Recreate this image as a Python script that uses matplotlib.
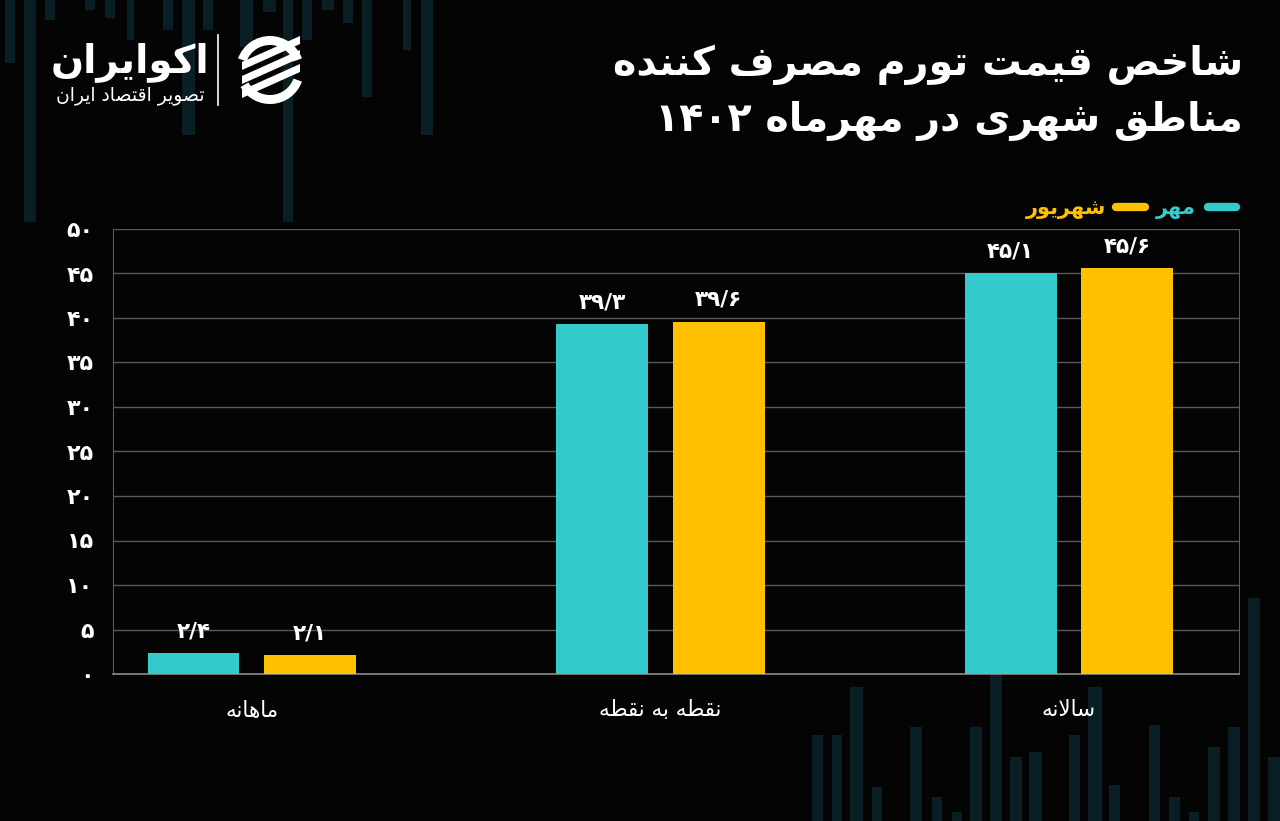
#!/usr/bin/env python3
"""
Urban CPI inflation chart (Mehr vs Shahrivar 1402)
"""
import re
import matplotlib
matplotlib.use('Agg')
import matplotlib.pyplot as plt
import numpy as np
from matplotlib.patches import Rectangle, Wedge, Polygon

# Data
categories = ['ماهانه', 'نقطه به نقطه', 'سالانه']
mehr = [2.4, 39.3, 45.1]
shahrivar = [2.1, 39.6, 45.6]
mehr_labels = ['۲/۴', '۳۹/۳', '۴۵/۱']
shahrivar_labels = ['۲/۱', '۳۹/۶', '۴۵/۶']
y_ticks = [0, 5, 10, 15, 20, 25, 30, 35, 40, 45, 50]
series_names = ['مهر', 'شهریور']
title_lines = ['شاخص قیمت تورم مصرف کننده', 'مناطق شهری در مهرماه ۱۴۰۲']

CYAN = '#35cbcc'
YELLOW = '#ffc000'
BG = '#040404'
DECO = '#0a1f25'

# --- minimal Persian shaping (matplotlib has no bidi/shaping) ---
FORMS = {
    'ا': (0xFE8D, 0xFE8E), 'آ': (0xFE81, 0xFE82),
    'ب': (0xFE8F, 0xFE90, 0xFE91, 0xFE92), 'پ': (0xFB56, 0xFB57, 0xFB58, 0xFB59),
    'ت': (0xFE95, 0xFE96, 0xFE97, 0xFE98), 'ث': (0xFE99, 0xFE9A, 0xFE9B, 0xFE9C),
    'ج': (0xFE9D, 0xFE9E, 0xFE9F, 0xFEA0), 'چ': (0xFB7A, 0xFB7B, 0xFB7C, 0xFB7D),
    'ح': (0xFEA1, 0xFEA2, 0xFEA3, 0xFEA4), 'خ': (0xFEA5, 0xFEA6, 0xFEA7, 0xFEA8),
    'د': (0xFEA9, 0xFEAA), 'ذ': (0xFEAB, 0xFEAC), 'ر': (0xFEAD, 0xFEAE),
    'ز': (0xFEAF, 0xFEB0), 'ژ': (0xFB8A, 0xFB8B),
    'س': (0xFEB1, 0xFEB2, 0xFEB3, 0xFEB4), 'ش': (0xFEB5, 0xFEB6, 0xFEB7, 0xFEB8),
    'ص': (0xFEB9, 0xFEBA, 0xFEBB, 0xFEBC), 'ض': (0xFEBD, 0xFEBE, 0xFEBF, 0xFEC0),
    'ط': (0xFEC1, 0xFEC2, 0xFEC3, 0xFEC4), 'ظ': (0xFEC5, 0xFEC6, 0xFEC7, 0xFEC8),
    'ع': (0xFEC9, 0xFECA, 0xFECB, 0xFECC), 'غ': (0xFECD, 0xFECE, 0xFECF, 0xFED0),
    'ف': (0xFED1, 0xFED2, 0xFED3, 0xFED4), 'ق': (0xFED5, 0xFED6, 0xFED7, 0xFED8),
    'ک': (0xFB8E, 0xFB8F, 0xFB90, 0xFB91), 'گ': (0xFB92, 0xFB93, 0xFB94, 0xFB95),
    'ل': (0xFEDD, 0xFEDE, 0xFEDF, 0xFEE0), 'م': (0xFEE1, 0xFEE2, 0xFEE3, 0xFEE4),
    'ن': (0xFEE5, 0xFEE6, 0xFEE7, 0xFEE8), 'و': (0xFEED, 0xFEEE),
    'ه': (0xFEE9, 0xFEEA, 0xFEEB, 0xFEEC), 'ی': (0xFBFC, 0xFBFD, 0xFBFE, 0xFBFF),
    '\uFEFB': (0xFEFB, 0xFEFC),  # lam-alef ligature
}


def shape(text):
    text = text.replace('لا', '\uFEFB')
    out = []
    for i, c in enumerate(text):
        if c not in FORMS:
            out.append(c)
            continue
        f = FORMS[c]
        prev = text[i - 1] if i > 0 else ''
        nxt = text[i + 1] if i + 1 < len(text) else ''
        j_prev = prev in FORMS and len(FORMS[prev]) == 4
        j_next = len(f) == 4 and nxt in FORMS
        if j_prev and j_next:
            k = 3
        elif j_prev:
            k = 1
        elif j_next:
            k = 2
        else:
            k = 0
        out.append(chr(f[k]))
    shaped = ''.join(out)
    runs = re.findall(r'[0-9\u06F0-\u06F9/]+|[^0-9\u06F0-\u06F9/]+', shaped)
    vis = []
    for r in reversed(runs):
        if re.match(r'[0-9\u06F0-\u06F9/]', r):
            vis.append(r)
        else:
            vis.append(r[::-1])
    return ''.join(vis)


def fa_num(n):
    return ''.join(chr(0x06F0 + int(d)) for d in str(n))


plt.rcParams['font.family'] = ['DejaVu Sans']

fig = plt.figure(figsize=(12.8, 8.21), dpi=100, facecolor=BG)

# decorative background bars (candles) in figure pixels
bg = fig.add_axes([0, 0, 1, 1], zorder=0)
bg.set_xlim(0, 1280)
bg.set_ylim(821, 0)
bg.axis('off')
top_bars = [(5, 10, 63), (24, 12, 222), (45, 10, 20), (85, 10, 10), (105, 10, 18),
            (127, 7, 40), (163, 10, 30), (182, 13, 135), (203, 10, 30), (240, 13, 47),
            (263, 13, 12), (283, 10, 222), (302, 10, 40), (322, 12, 10), (343, 10, 23),
            (362, 10, 97), (403, 8, 50), (421, 12, 135)]
for x, w, h in top_bars:
    bg.add_patch(Rectangle((x, 0), w, h, color=DECO, lw=0))
bottom_bars = [(812, 11, 735), (832, 10, 735), (850, 13, 687), (872, 10, 787),
               (910, 12, 727), (932, 10, 797), (952, 10, 812), (970, 12, 727),
               (990, 12, 673), (1010, 12, 757), (1029, 13, 752), (1069, 11, 735),
               (1088, 14, 687), (1109, 11, 785), (1149, 11, 725), (1169, 11, 797),
               (1189, 10, 812), (1208, 12, 747), (1228, 12, 727), (1248, 12, 598),
               (1268, 12, 757)]
for x, w, top in bottom_bars:
    bg.add_patch(Rectangle((x, top), w, 821 - top, color=DECO, lw=0))

# logo
bg.text(130, 72, shape('اکوایران'), color='white', fontsize=28, fontweight='bold',
        ha='center', va='baseline')
bg.text(130, 100, shape('تصویر اقتصاد ایران'), color='white', fontsize=13.5,
        ha='center', va='baseline')
bg.plot([218, 218], [35, 105], color='white', lw=1.2)
bg.add_patch(Wedge((270, 70), 34, 200, 340, width=9, color='white', lw=0))
bg.add_patch(Wedge((270, 70), 34, 20, 150, width=9, color='white', lw=0))
for dy in (-14, 0, 14):
    bg.add_patch(Polygon([(242, 76 + dy), (300, 50 + dy), (300, 58 + dy), (242, 84 + dy)],
                         closed=True, color='white', lw=0))

# title
bg.text(1243, 75, shape(title_lines[0]), color='white', fontsize=28.5, fontweight='bold',
        ha='right', va='baseline')
bg.text(1243, 131, shape(title_lines[1]), color='white', fontsize=28.5, fontweight='bold',
        ha='right', va='baseline')

# legend
bg.plot([1208, 1236], [207, 207], color=CYAN, lw=6, solid_capstyle='round')
bg.text(1196, 214, shape(series_names[0]), color=CYAN, fontsize=15, fontweight='bold',
        ha='right', va='baseline')
bg.plot([1116, 1145], [207, 207], color=YELLOW, lw=6, solid_capstyle='round')
bg.text(1106, 214, shape(series_names[1]), color=YELLOW, fontsize=15, fontweight='bold',
        ha='right', va='baseline')

# main axes
ax = fig.add_axes([113 / 1280, 1 - 674 / 821, 1126 / 1280, 445 / 821], zorder=1)
ax.set_facecolor('none')
x = np.arange(len(categories))
w = 0.225
off = 0.143
b1 = ax.bar(x - off, mehr, w, color=CYAN, zorder=3)
b2 = ax.bar(x + off, shahrivar, w, color=YELLOW, zorder=3)

for bars, labels in ((b1, mehr_labels), (b2, shahrivar_labels)):
    for bar, lab in zip(bars, labels):
        ax.text(bar.get_x() + bar.get_width() / 2, bar.get_height() + 1.3, lab,
                color='white', fontsize=15.5, fontweight='bold', ha='center', va='bottom',
                zorder=4)

ax.set_xlim(-0.34, 2.416)
ax.set_ylim(0, 50)
ax.set_yticks(y_ticks)
ax.set_yticklabels([fa_num(v) for v in y_ticks], color='white', fontsize=16,
                   fontweight='bold')
ax.set_xticks(x)
ax.set_xticklabels([shape(c) for c in categories], color='white', fontsize=15.5)
ax.tick_params(axis='both', length=0)
ax.tick_params(axis='y', pad=14)
ax.tick_params(axis='x', pad=19)
ax.grid(axis='y', color='#5a5a5a', lw=1, zorder=1)
ax.set_axisbelow(True)
for s in ('left', 'right'):
    ax.spines[s].set_color('#5a5a5a')
ax.spines['top'].set_visible(False)
ax.spines['bottom'].set_color('#8a8a8a')
ax.spines['bottom'].set_linewidth(1.2)

fig.savefig('out.png', dpi=100, facecolor=BG)
